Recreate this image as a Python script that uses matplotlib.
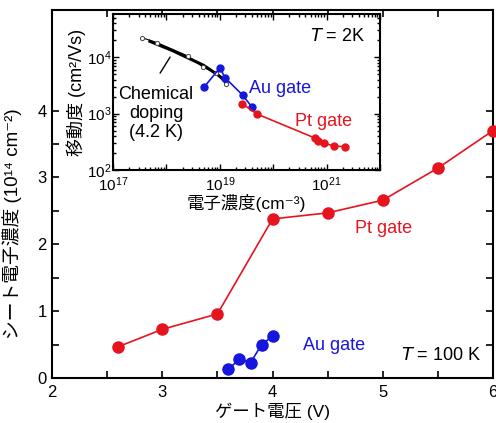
import numpy as np
import matplotlib
matplotlib.use('Agg')
from matplotlib import pyplot as plt
from matplotlib.ticker import MultipleLocator, FixedLocator, LogLocator, LogFormatterMathtext, NullFormatter

plt.rcParams['font.family'] = ['Liberation Sans', 'Noto Sans CJK JP', 'DejaVu Sans']
plt.rcParams['mathtext.fontset'] = 'custom'
plt.rcParams['mathtext.rm'] = 'Liberation Sans'
plt.rcParams['mathtext.default'] = 'rm'

RED = '#e5141e'
BLUE = '#1616dc'

# main panel: sheet electron density vs gate voltage (T = 100 K)
pt_v = [2.6, 3.0, 3.5, 4.0, 4.5, 5.0, 5.5, 6.0]
pt_n = [0.47, 0.73, 0.96, 2.38, 2.47, 2.66, 3.14, 3.7]
au_v = [3.6, 3.7, 3.8, 3.9, 4.0]
au_n = [0.13, 0.29, 0.23, 0.50, 0.63]

# inset: mobility vs electron density (T = 2 K)
chem_n = [3.5e17, 6.7e17, 2.5e18, 4.9e18, 8.5e18, 1.3e19]
chem_mu = [2.2e4, 1.8e4, 1.05e4, 6.6e3, 5.2e3, 3.3e3]
chem_fit_n = [4.9e17, 1.3e18, 4.9e18, 9.3e18, 1.35e19]
chem_fit_mu = [1.9e4, 1.3e4, 7.2e3, 4.8e3, 3.6e3]
au_in_n = [5.0e18, 1.0e19, 1.26e19, 2.7e19, 4.0e19]
au_in_mu = [2.9e3, 6.4e3, 4.3e3, 2.1e3, 1.3e3]
pt_in_n = [2.6e19, 5.0e19, 6.0e20, 6.9e20, 8.9e20, 1.4e21, 2.2e21]
pt_in_mu = [1.5e3, 980, 370, 325, 300, 265, 260]

fig = plt.figure(figsize=(4.96, 4.23), dpi=100)
ax = fig.add_axes([0.105, 0.106, 0.889, 0.870])

ax.plot(pt_v, pt_n, '-o', color=RED, lw=1.2, ms=8, clip_on=False, zorder=3)
ax.plot(au_v, au_n, '-o', color=BLUE, lw=1.2, ms=8, clip_on=False, zorder=3)

ax.set_xlim(2, 6)
ax.set_ylim(0, 5.5)
ax.xaxis.set_major_locator(MultipleLocator(1))
ax.xaxis.set_minor_locator(MultipleLocator(0.5))
ax.yaxis.set_major_locator(FixedLocator([0, 1, 2, 3, 4]))
ax.yaxis.set_minor_locator(FixedLocator([0.5, 1.5, 2.5, 3.5]))
ax.tick_params(which='both', direction='in', top=True, right=True,
               length=5, width=1.2, labelsize=12)
ax.tick_params(axis='x', pad=5)
ax.tick_params(axis='y', pad=4)
for s in ax.spines.values():
    s.set_linewidth(1.5)

ax.set_xlabel('ゲート電圧 (V)', fontsize=12.5, labelpad=2)
ax.set_ylabel('シート電子濃度 (10¹⁴ cm⁻²)', fontsize=13.5)
ax.yaxis.set_label_coords(-0.068, 0.42)

ax.text(5.01, 2.23, 'Pt gate', color=RED, fontsize=13, ha='center', va='center')
ax.text(4.56, 0.49, 'Au gate', color=BLUE, fontsize=13, ha='center', va='center')
ax.text(5.89, 0.34, '$\\it{T}$ = 100 K', fontsize=13, ha='right', va='center')

# inset
ins = fig.add_axes([0.228, 0.598, 0.538, 0.369])
ins.set_facecolor('white')
ins.plot(chem_fit_n, chem_fit_mu, '-', color='black', lw=2.2)
ins.plot(chem_n, chem_mu, '-o', color='black', lw=0.8, ms=3,
         mfc='white', mec='#444444', mew=0.7)
ins.plot(au_in_n, au_in_mu, '-o', color=BLUE, lw=1.2, ms=5)
ins.plot(pt_in_n, pt_in_mu, '-o', color=RED, lw=1.2, ms=5)
ins.annotate('', xy=(1.17e18, 1.0e4), xytext=(7.6e17, 5.2e3),
             arrowprops=dict(arrowstyle='-', lw=1.0, color='black',
                             shrinkA=0, shrinkB=0))

ins.set_xscale('log')
ins.set_yscale('log')
ins.set_xlim(1e17, 1e22)
ins.set_ylim(1e2, 5.8e4)
ins.xaxis.set_major_locator(LogLocator(base=10, numticks=10))
ins.xaxis.set_minor_locator(LogLocator(base=10, subs=np.arange(2, 10), numticks=20))
ins.yaxis.set_major_locator(LogLocator(base=10, numticks=10))
ins.yaxis.set_minor_locator(LogLocator(base=10, subs=np.arange(2, 10), numticks=20))
ins.xaxis.set_minor_formatter(NullFormatter())
ins.yaxis.set_minor_formatter(NullFormatter())
fmt = LogFormatterMathtext()
ins.xaxis.set_major_formatter(
    matplotlib.ticker.FuncFormatter(lambda v, p: fmt(v, p) if round(np.log10(v)) % 2 == 1 else ''))
ins.tick_params(which='both', direction='in', top=True, right=True, labelsize=11, width=1.0)
ins.tick_params(which='major', length=4)
ins.tick_params(which='minor', length=2)
ins.tick_params(axis='y', pad=1)
ins.tick_params(axis='x', pad=4)
for s in ins.spines.values():
    s.set_linewidth(1.5)

ins.set_xlabel('電子濃度(cm⁻³)', fontsize=12.5, labelpad=0)
ins.set_ylabel('移動度 (cm²/Vs)', fontsize=13, labelpad=1)

ins.text(0.944, 0.853, '$\\it{T}$ = 2K', transform=ins.transAxes, fontsize=13,
         ha='right', va='center')
ins.text(0.625, 0.52, 'Au gate', transform=ins.transAxes, fontsize=13,
         color=BLUE, ha='center', va='center')
ins.text(0.787, 0.31, 'Pt gate', transform=ins.transAxes, fontsize=13,
         color=RED, ha='center', va='center')
ins.text(0.161, 0.365, 'Chemical\ndoping\n(4.2 K)', transform=ins.transAxes,
         fontsize=13, ha='center', va='center', linespacing=1.15)

fig.savefig('out.png', dpi=100)
